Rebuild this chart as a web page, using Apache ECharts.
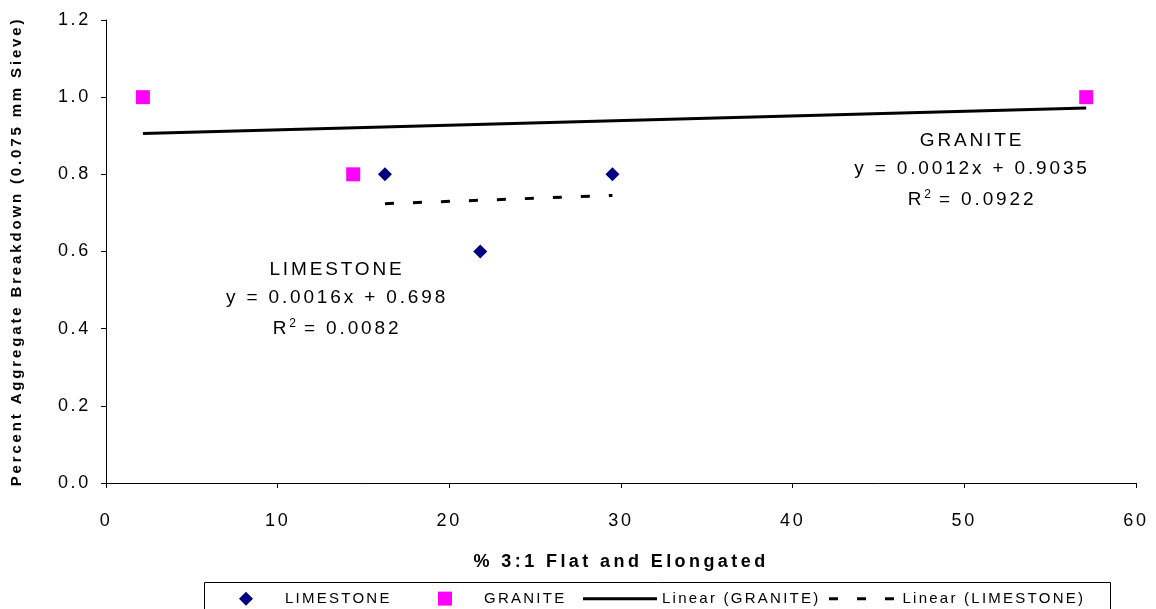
<!DOCTYPE html>
<html>
<head>
<meta charset="utf-8">
<script src="https://cdn.jsdelivr.net/npm/echarts@6/dist/echarts.min.js"></script>
<style>
  html, body { margin: 0; padding: 0; background: #fff; }
  #chart { width: 1156px; height: 609px; }
</style>
</head>
<body>
<div id="chart"></div>
<script>
  // 数据
  const limestoneX = [16.25, 21.8, 29.5]
  const limestoneY = [0.8, 0.6, 0.8]
  const graniteX = [2.15, 14.4, 57.1]
  const graniteY = [1.0, 0.8, 1.0]
  // 趋势线系数 (图中标注)
  const graniteFit = { slope: 0.0012, intercept: 0.9035, r2: '0.0922' }
  const limestoneFit = { slope: 0.0016, intercept: 0.698, r2: '0.0082' }

  const font = 'Arial, "Liberation Sans", sans-serif'

  // Excel 风格的字间距: 测量和绘制都加上
  function letterGap(f) {
    const m = /(\d+(?:\.\d+)?)px/.exec(f || '')
    const size = m ? parseFloat(m[1]) : 12
    if (size < 14) return 0
    return size * (/bold|[6-9]00/.test(f) ? 0.19 : 0.15)
  }
  const measureCtx = document.createElement('canvas').getContext('2d')
  echarts.setPlatformAPI({
    measureText(text, f) {
      measureCtx.font = f || '12px sans-serif'
      return { width: measureCtx.measureText(text).width + text.length * letterGap(f) }
    }
  })
  const rawFillText = CanvasRenderingContext2D.prototype.fillText
  CanvasRenderingContext2D.prototype.fillText = function (text, x, y, maxWidth) {
    this.letterSpacing = letterGap(this.font) + 'px'
    return maxWidth === undefined ? rawFillText.call(this, text, x, y) : rawFillText.call(this, text, x, y, maxWidth)
  }

  function pairs(xs, ys) {
    return xs.map((x, i) => [x, ys[i]])
  }
  function trend(xs, fit) {
    const lo = Math.min(...xs)
    const hi = Math.max(...xs)
    return [[lo, fit.slope * lo + fit.intercept], [hi, fit.slope * hi + fit.intercept]]
  }

  // 图例: 每项单独定位 (left 是图标实际左边)
  const legendText = { fontFamily: font, fontSize: 15, color: '#000' }
  function legendItem(name, left, icon, w, h) {
    return {
      left: left,
      top: 590,
      padding: 0,
      itemWidth: w,
      itemHeight: h,
      symbolKeepAspect: true,
      textStyle: legendText,
      data: [{ name: name, icon: icon }]
    }
  }

  function note(cx, cy, name, fit) {
    const eq = 'y = ' + fit.slope + 'x + ' + fit.intercept
    const base = { fontFamily: font, fontSize: 19, fill: '#000', align: 'center', verticalAlign: 'middle' }
    return [
      { type: 'text', x: cx, y: cy, style: Object.assign({ text: name }, base) },
      { type: 'text', x: cx, y: cy + 28, style: Object.assign({ text: eq }, base) },
      {
        type: 'text', x: cx, y: cy + 59,
        style: Object.assign({
          text: 'R{sup|2} = ' + fit.r2,
          rich: { sup: { fontFamily: font, fontSize: 12, verticalAlign: 'top', padding: [0, 0, 8, 0] } }
        }, base)
      }
    ]
  }

  const chart = echarts.init(document.getElementById('chart'))
  const option = {
    animation: false,
    grid: { left: 106, right: 20, top: 20, bottom: 126 },
    xAxis: {
      type: 'value',
      min: 0,
      max: 60,
      interval: 10,
      name: '% 3:1 Flat and Elongated',
      nameLocation: 'middle',
      nameGap: 68,
      nameTextStyle: { fontFamily: font, fontWeight: 'bold', fontSize: 18, color: '#000' },
      axisLine: { lineStyle: { color: '#000', width: 1 } },
      axisTick: { show: true, length: 5, lineStyle: { color: '#000' } },
      axisLabel: { fontFamily: font, fontSize: 18, color: '#000', margin: 28 },
      splitLine: { show: false }
    },
    yAxis: {
      type: 'value',
      min: 0,
      max: 1.2,
      interval: 0.2,
      name: 'Percent Aggregate Breakdown (0.075 mm Sieve)',
      nameLocation: 'middle',
      nameGap: 80,
      nameTextStyle: { fontFamily: font, fontWeight: 'bold', fontSize: 15, color: '#000' },
      axisLine: { show: true, lineStyle: { color: '#000', width: 1 } },
      axisTick: { show: true, length: 5, lineStyle: { color: '#000' } },
      axisLabel: {
        fontFamily: font, fontSize: 18, color: '#000', margin: 15,
        formatter: v => v.toFixed(1)
      },
      splitLine: { show: false }
    },
    legend: [
      legendItem('LIMESTONE', 239, 'path://M7,0L14,7L7,14L0,7Z', 68, 14),
      legendItem('GRANITE', 438, 'path://M0,0H14V14H0Z', 68, 14),
      legendItem('Linear (GRANITE)', 583, 'path://M0,0H74V3H0Z', 74, 3),
      legendItem('Linear (LIMESTONE)', 829, 'path://M0,0H9V3H0Z M28,0H37V3H28Z M56,0H65V3H56Z', 72, 3)
    ],
    series: [
      {
        name: 'LIMESTONE',
        type: 'scatter',
        symbol: 'diamond',
        symbolSize: 14,
        itemStyle: { color: '#000080', opacity: 1 },
        data: pairs(limestoneX, limestoneY),
        z: 5
      },
      {
        name: 'GRANITE',
        type: 'scatter',
        symbol: 'rect',
        symbolSize: 14,
        itemStyle: { color: '#FF00FF', opacity: 1 },
        data: pairs(graniteX, graniteY),
        z: 5
      },
      {
        name: 'Linear (GRANITE)',
        type: 'line',
        symbol: 'none',
        lineStyle: { color: '#000', width: 3 },
        itemStyle: { color: '#000' },
        data: trend(graniteX, graniteFit)
      },
      {
        name: 'Linear (LIMESTONE)',
        type: 'line',
        symbol: 'none',
        lineStyle: { color: '#000', width: 3, type: [9, 19] },
        itemStyle: { color: '#000' },
        data: trend(limestoneX, limestoneFit)
      }
    ],
    graphic: [
      {
        type: 'rect',
        shape: { x: 204.5, y: 582.5, width: 906, height: 40 },
        style: { fill: 'none', stroke: '#000', lineWidth: 1 }
      }
    ].concat(note(337, 270, 'LIMESTONE', limestoneFit), note(972, 141, 'GRANITE', graniteFit))
  }
  chart.setOption(option)
</script>
</body>
</html>
